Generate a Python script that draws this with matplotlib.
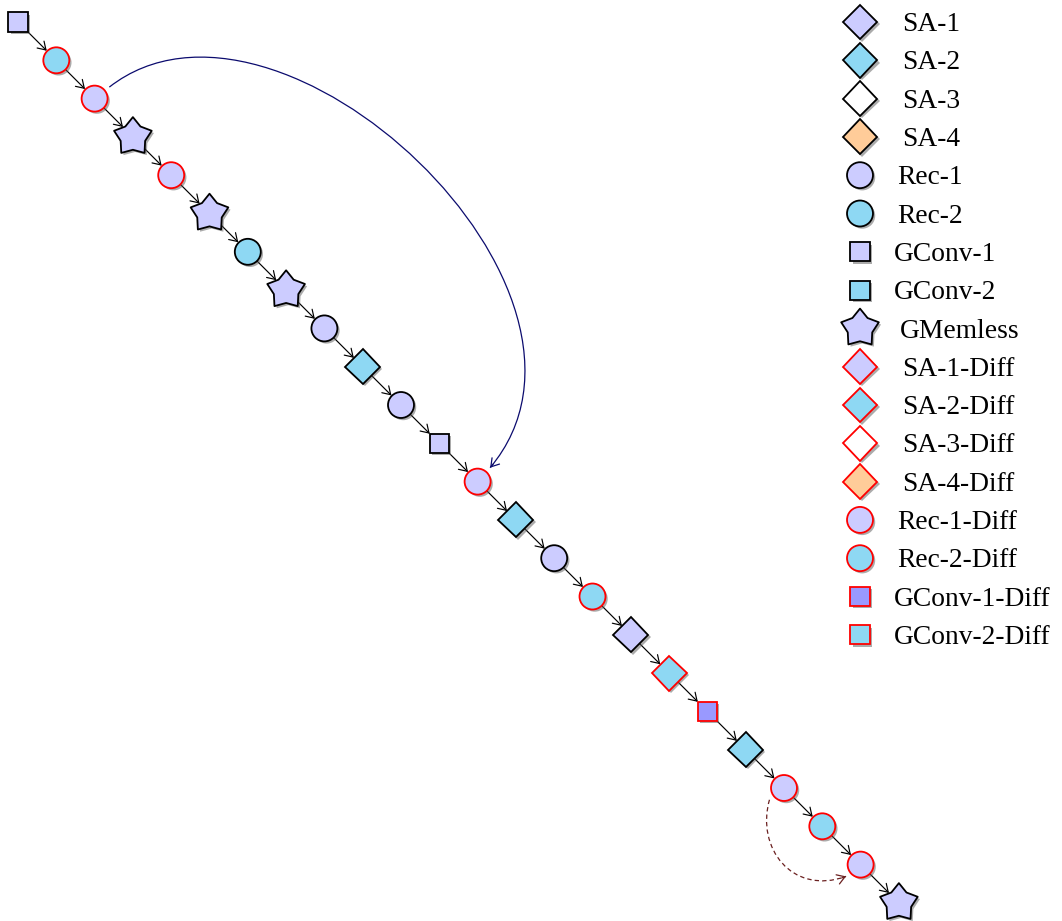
import matplotlib.pyplot as plt
import matplotlib.patheffects as pe
import numpy as np
from matplotlib.patches import FancyArrowPatch, PathPatch
from matplotlib.path import Path

# ----- Data ---------------------------------------------------------------------------------------------------------- #

# Layer types along the chain, in order
CHAIN = ['GConv-1', 'Rec-2-Diff', 'Rec-1-Diff', 'GMemless', 'Rec-1-Diff', 'GMemless',
         'Rec-2', 'GMemless', 'Rec-1', 'SA-2', 'Rec-1', 'GConv-1',
         'Rec-1-Diff', 'SA-2', 'Rec-1', 'Rec-2-Diff', 'SA-1', 'SA-2-Diff',
         'GConv-1-Diff', 'SA-2', 'Rec-1-Diff', 'Rec-2-Diff', 'Rec-1-Diff', 'GMemless']

# Legend entries
LEGEND_ORDER = ['SA-1', 'SA-2', 'SA-3', 'SA-4', 'Rec-1', 'Rec-2', 'GConv-1', 'GConv-2', 'GMemless',
                'SA-1-Diff', 'SA-2-Diff', 'SA-3-Diff', 'SA-4-Diff', 'Rec-1-Diff', 'Rec-2-Diff',
                'GConv-1-Diff', 'GConv-2-Diff']

# Long range connections (source index, target index)
SKIP_SOURCES = [2, 20]
SKIP_TARGETS = [12, 22]

# ----- Styles -------------------------------------------------------------------------------------------------------- #

FIG_W_PX, FIG_H_PX, DPI = 1062, 921, 100
PX = 38.3                      # pixels per chain step
PT = 72 / DPI                  # points per pixel

FILLS = {'1': '#ccccff', '2': '#8ed8f3', '3': '#ffffff', '4': '#ffcc99'}
STAR = Path.unit_regular_star(5, 0.65)
MARKERS = {'SA': ('D', 17.8), 'Rec': ('o', 18.7), 'GConv': ('s', 13.7), 'GMemless': (STAR, 28.5)}
# distance (px) from node centre to its border along the chain diagonal
BORDER_OUT = {'SA': 12.5, 'Rec': 13.5, 'GConv': 13.5, 'GMemless': 17.0}
BORDER_IN = {'SA': 12.5, 'Rec': 13.5, 'GConv': 13.5, 'GMemless': 14.0}
HALF_WIDTH = {'SA': 17.5, 'Rec': 13.0, 'GConv': 9.5, 'GMemless': 15.0}
ARROW = '->,head_length=0.55,head_width=0.35'

SKIP_STYLES = [
    dict(color='#0b0b6e', ls='-', attach=(38, 48), tangent=(38, 50), reach=(5.6, 6.0)),
    dict(color='#6b2020', ls=(0, (3.5, 2.5)), attach=(219, 219), tangent=(254, 200), reach=(1.3, 1.5)),
]

SHADOW = [pe.SimplePatchShadow(offset=(1.6, -1.6), shadow_rgbFace='0.35', alpha=0.5), pe.Normal()]


def node_style(name):
    parts = name.split('-')
    kind = parts[0]
    variant = '1' if kind == 'GMemless' else parts[1]
    fill = FILLS[variant]
    if name == 'GConv-1-Diff':
        fill = '#9999ff'
    edge = 'red' if name.endswith('Diff') else 'black'
    marker, size = MARKERS[kind]
    return kind, dict(marker=marker, markersize=size, markerfacecolor=fill,
                      markeredgecolor=edge, markeredgewidth=1.3, linestyle='none')


def direction(deg):
    # y axis is inverted, so "up" is negative y
    a = np.radians(deg)
    return np.array([np.cos(a), -np.sin(a)])


# ----- Plot ---------------------------------------------------------------------------------------------------------- #

fig = plt.figure(figsize=(FIG_W_PX / DPI, FIG_H_PX / DPI), dpi=DPI)
ax = fig.add_axes([0, 0, 1, 1])
ax.set_xlim(-18 / PX, (FIG_W_PX - 18) / PX)
ax.set_ylim((FIG_H_PX - 22) / PX, -22 / PX)
ax.axis('off')

# Nodes
kinds = []
for i, name in enumerate(CHAIN):
    kind, style = node_style(name)
    kinds.append(kind)
    ax.plot([i], [i], zorder=3, path_effects=SHADOW, **style)

# Chain arrows
for i in range(len(CHAIN) - 1):
    arrow = FancyArrowPatch((i, i), (i + 1, i + 1), arrowstyle=ARROW, mutation_scale=10,
                            shrinkA=BORDER_OUT[kinds[i]] * PT, shrinkB=BORDER_IN[kinds[i + 1]] * PT,
                            color='black', lw=0.85, zorder=2)
    ax.add_patch(arrow)

# Long range connections
for src, dst, st in zip(SKIP_SOURCES, SKIP_TARGETS, SKIP_STYLES):
    gap = 18.7 / PX
    p0 = np.array([src, src], float) + gap * direction(st['attach'][0])
    p3 = np.array([dst, dst], float) + gap * direction(st['attach'][1])
    p1 = p0 + st['reach'][0] * direction(st['tangent'][0])
    p2 = p3 + st['reach'][1] * direction(st['tangent'][1])
    body = Path([p0, p1, p2, p3], [Path.MOVETO, Path.CURVE4, Path.CURVE4, Path.CURVE4])
    ax.add_patch(PathPatch(body, facecolor='none', edgecolor=st['color'], lw=0.9,
                           linestyle=st['ls'], zorder=2))
    back = (p2 - p3) / np.linalg.norm(p2 - p3)
    ax.add_patch(FancyArrowPatch(p3 + 0.12 * back, p3, arrowstyle=ARROW, mutation_scale=10,
                                 shrinkA=0, shrinkB=0, color=st['color'], lw=0.9, zorder=2))

# Legend
legend_x = (860 - 18) / PX
font_size = 19.8
cap_half = 0.662 * font_size / PT / 2 / PX
for row, name in enumerate(LEGEND_ORDER):
    kind, style = node_style(name)
    ax.plot([legend_x], [row], zorder=3, path_effects=SHADOW, **style)
    ax.text(legend_x + (HALF_WIDTH[kind] + 24.5) / PX, row + cap_half, name,
            fontsize=font_size, family='Liberation Serif', ha='left', va='baseline')

fig.savefig('out.png', dpi=DPI)
